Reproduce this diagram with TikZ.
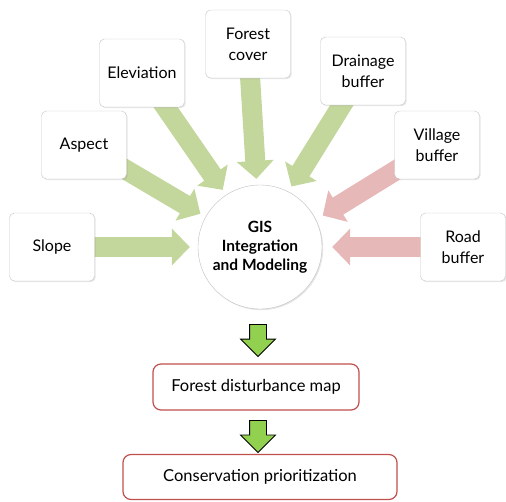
\documentclass[tikz,border=0pt]{standalone}
\usepackage{fontspec}
\setmainfont{Lato}
\usetikzlibrary{positioning,shapes.arrows,shadows,arrows.meta,calc,backgrounds}
\definecolor{leafgreen}{HTML}{C3D69B}
\definecolor{rosepink}{HTML}{E6B9B8}
\definecolor{limegreen}{HTML}{92D050}
\definecolor{brickred}{HTML}{C0504D}

\begin{document}
\begin{tikzpicture}[x=1pt,y=-1pt,
    factor/.style={rectangle,rounded corners=5pt,draw=gray!45,fill=white,minimum width=85pt,minimum height=68pt,align=center,font=\fontsize{16}{21}\selectfont,drop shadow={opacity=0.2,shadow xshift=1.2pt,shadow yshift=-1.2pt}},
    hub/.style={circle,draw=gray!50,fill=white,minimum size=124pt,align=center,font=\bfseries\fontsize{15.5}{19}\selectfont,drop shadow={opacity=0.2,shadow xshift=1.2pt,shadow yshift=-1.2pt}},
    result/.style={rectangle,rounded corners=8pt,draw=brickred,line width=1.2pt,fill=white,align=center,font=\fontsize{16.5}{18}\selectfont},
    feed/.style={line width=20pt,-{Triangle[length=18pt,width=36pt]},shorten >=6pt},
    downarrow/.style={single arrow,draw=black,line width=0.8pt,fill=limegreen,rotate=-90,minimum height=32pt,inner xsep=0pt,inner ysep=8pt,single arrow head extend=9pt}]
  \useasboundingbox (0,0) rectangle (506,501);
  \node at (52,247) [factor] (slope) {Slope};
  \node at (84,145) [factor] (aspect) {Aspect};
  \node at (142,73) [factor] (elev) {Eleviation};
  \node at (248,44) [factor] (forest) {Forest\\cover};
  \node at (363,71) [factor] (drain) {Drainage\\buffer};
  \node at (437,145) [factor] (village) {Village\\buffer};
  \node at (463,247) [factor] (road) {Road\\buffer};
  \node at (260,247) [hub] (gis) {GIS\\Integration\\and Modeling};
  \node at (256,387) [result,minimum width=206pt,minimum height=46pt] (fdm) {Forest disturbance map};
  \node at (260,477) [result,minimum width=274pt,minimum height=45pt] (cons) {Conservation prioritization};
  \node at ($(gis.south)!0.5!(fdm.north)$) [downarrow] (a1) {};
  \node at ($(fdm.south)!0.5!(cons.north)$) [downarrow] (a2) {};
  \begin{scope}[on background layer]
    \draw[feed,leafgreen,shorten >=8pt] (slope.center) -- (gis.west);
    \draw[feed,leafgreen] (aspect.center) -- (gis.151);
    \draw[feed,leafgreen] (elev.center) -- (gis.123);
    \draw[feed,leafgreen] (forest.center) -- (gis.93);
    \draw[feed,leafgreen] (drain.center) -- (gis.63);
    \draw[feed,rosepink,shorten >=8pt] (village.center) -- (gis.26);
    \draw[feed,rosepink,shorten >=10pt] (road.center) -- (gis.east);
  \end{scope}
\end{tikzpicture}
\end{document}
